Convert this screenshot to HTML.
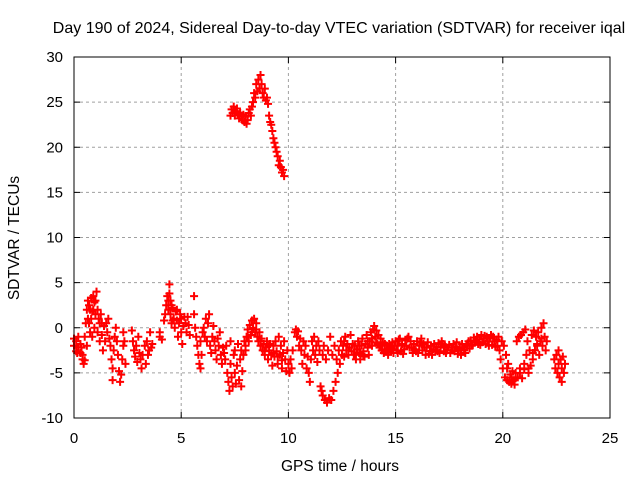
<!DOCTYPE html>
<html><head><meta charset="utf-8"><style>
html,body{margin:0;padding:0;background:#fff;}
svg{display:block;font-family:"Liberation Sans",sans-serif;}
</style></head><body>
<svg id="chart" width="640" height="480" viewBox="0 0 640 480">
<text x="339" y="33" text-anchor="middle" font-size="16" fill="#000">Day 190 of 2024, Sidereal Day-to-day VTEC variation (SDTVAR) for receiver iqal</text>
<text transform="translate(19,238) rotate(-90)" text-anchor="middle" font-size="15.5" fill="#000">SDTVAR / TECUs</text>
<text x="340" y="471" text-anchor="middle" font-size="15.5" fill="#000">GPS time / hours</text>
<g id="grid"></g>
<g id="ticks"></g>
<g id="points"></g>
<rect x="74" y="57" width="536" height="361" fill="none" stroke="#000" stroke-width="1"/>
</svg>
<script>
const xTicks=[0,5,10,15,20,25];
const yTicks=[-10,-5,0,5,10,15,20,25,30];
const hours=[
0.0,0.0,0.1,0.1,0.2,0.2,0.3,0.3,0.4,0.4,0.45,0.5,0.5,0.55,0.6,0.6,0.65,0.7,0.7,0.75,0.8,0.8,0.85,0.9,0.9,0.95,1.0,1.0,1.05,1.1,1.1,1.2,1.2,1.25,1.3,1.35,1.4,1.45,1.5,1.55,1.6,1.65,1.7,1.75,1.8,1.8,1.85,1.9,1.95,2.0,2.05,2.1,2.15,2.2,2.25,2.3,2.3,2.35,2.4,
2.7,2.75,2.8,2.85,2.9,2.95,3.0,3.05,3.1,3.15,3.2,3.3,3.35,3.4,3.45,3.5,3.55,3.6,3.65,4.0,4.0,4.1,
4.2,4.25,4.3,4.35,4.4,4.45,4.45,4.5,4.5,4.55,4.6,4.65,4.7,4.75,4.8,4.85,4.9,4.95,5.0,5.0,5.05,5.1,5.15,5.2,5.25,5.3,5.35,5.4,
5.6,5.6,5.65,5.7,5.75,5.8,5.85,5.9,5.9,5.95,6.0,6.05,6.1,6.15,6.2,6.25,6.3,6.35,6.4,6.45,6.5,6.55,6.6,6.65,6.7,6.75,6.8,6.85,6.9,6.95,7.0,
7.05,7.1,7.15,7.2,7.25,7.3,7.3,7.35,7.4,7.45,7.5,7.5,7.55,7.6,7.65,7.7,7.75,7.8,7.8,7.85,7.9,7.95,8.0,8.05,8.1,8.15,8.2,8.25,8.3,8.35,8.4,8.45,8.5,8.55,
8.6,8.65,8.7,8.75,8.8,8.85,8.9,8.95,9.0,9.05,9.1,9.15,9.2,9.25,9.3,9.35,9.4,9.45,9.5,9.55,9.6,9.65,9.7,9.75,9.8,9.85,9.9,9.95,10.0,10.05,10.1,10.15,10.2,
10.3,10.35,10.4,10.45,10.5,10.55,
10.6,10.65,10.7,10.75,10.8,10.85,10.9,10.95,11.0,11.05,11.1,11.15,11.2,11.25,11.3,11.35,11.4,11.45,11.5,11.55,11.6,11.6,11.65,11.7,11.75,11.8,11.85,11.9,11.95,12.0,12.05,12.1,12.15,12.2,12.25,12.3,12.35,12.4,12.45,12.5,12.55,12.6,12.65,12.7,12.75,12.8,12.85,12.9,12.95,
13.0,13.05,13.1,13.15,13.2,13.25,13.3,13.35,13.4,13.45,13.5,13.55,13.6,13.65,13.7,13.75,13.8,13.85,13.9,13.95,14.0,14.05,14.1,14.15,14.2,14.25,14.3,14.35,14.4,14.45,14.5,14.55,14.6,14.65,14.7,14.75,14.8,14.85,14.9,14.95,
15.0,15.05,15.1,15.2,15.25,15.3,15.4,15.45,15.5,15.6,15.65,15.7,15.8,15.85,15.9,16.0,16.05,16.1,16.2,16.25,16.3,16.4,16.45,16.5,16.6,16.65,16.7,16.8,16.85,16.9,17.0,17.05,17.1,17.2,17.25,17.3,17.4,17.5,17.55,17.6,17.7,17.75,17.8,17.9,18.0,18.05,18.1,18.2,18.3,18.4,18.45,18.5,18.6,18.65,18.7,18.8,18.85,18.9,19.0,19.05,19.1,19.2,19.25,19.3,19.4,19.5,19.55,19.6,19.7,19.75,
19.8,19.85,19.9,19.95,20.0,20.05,20.1,20.15,20.2,20.25,20.3,20.35,20.4,20.45,20.5,20.55,20.6,20.65,20.7,20.75,20.8,20.85,20.9,20.95,21.0,21.05,21.1,21.15,21.2,21.25,21.3,21.35,21.4,21.45,21.5,21.55,21.6,21.65,21.7,21.75,21.8,21.85,21.9,21.95,22.0,22.05,
22.4,22.45,22.5,22.55,22.6,22.6,22.65,22.7,22.75,22.75,22.8,22.85,22.9,
7.3,7.35,7.4,7.45,7.5,7.55,7.6,7.65,7.7,7.75,7.8,7.85,7.9,7.95,8.0,8.05,8.1,8.15,8.2,8.25,8.3,8.35,8.4,8.45,8.5,8.55,8.6,8.65,8.7,8.75,8.8,8.85,8.9,8.95,9.0,9.05,9.1,9.15,9.2,9.25,9.3,9.35,9.4,9.45,9.5,9.55,9.6,9.65,9.7,9.75,9.8,
15.1,15.15,15.35,15.55,15.75,15.95,16.15,16.35,16.55,16.75,16.95,17.15,17.35,17.45,17.65,17.85,17.95,18.15,18.25,18.35,18.55,18.75,18.95,19.15,19.35,19.45,19.65,
0.15,0.35,0.65,0.75,0.85,0.95,1.15,1.3,4.4,4.55,4.6,4.8,12.6,12.8,13.1,13.3,13.5,13.7,13.9,14.1,14.3,14.5,14.7,14.9,
8.0,8.1,8.3,8.5,8.7,8.9,9.1,9.3,9.5,9.7,20.2,20.4,20.6,20.8,21.0,21.2,21.4,21.6,21.8
];
const sdtvar=[
-1.2,-2.0,-1.5,-2.6,-1.0,-2.2,-2.8,-1.8,-3.5,-3.0,-4.0,-3.6,-1.0,0.5,2.0,-2.0,3.0,0.5,2.5,-0.5,3.3,1.0,-1.0,2.0,3.5,0.0,1.5,3.0,4.0,-0.5,2.0,0.5,-1.5,1.5,-0.8,-2.5,0.2,-1.5,0.5,-0.5,1.0,-1.2,-2.0,-3.5,-5.8,-4.5,-2.5,-1.0,0.0,-1.5,-3.0,-4.8,-6.0,-5.2,-3.5,-2.0,-0.5,-1.5,-4.0,
-0.3,-1.5,-2.5,-3.2,-2.0,-3.8,-1.0,-2.8,-3.5,-4.5,-3.0,-2.0,-4.0,-1.5,-3.0,-2.5,-0.5,-2.2,-1.8,-0.5,-1.0,-1.3,
0.8,1.5,2.5,3.5,2.0,4.8,3.8,3.0,1.5,0.5,2.2,1.0,0.0,1.8,0.8,-1.0,0.5,1.5,-0.5,1.0,-1.8,0.2,1.2,0.5,-0.5,1.2,0.3,-0.8,
3.5,1.5,0.0,-1.0,-2.0,-3.0,-4.0,-4.5,-1.5,-3.0,-0.5,0.0,-1.0,1.0,-1.5,0.5,1.5,-2.0,-2.8,-1.0,0.2,-1.5,-2.5,-3.5,-1.2,-2.0,-0.5,-3.0,-4.0,-2.2,-2.8,
-3.5,-2.0,-5.0,-6.0,-7.0,-4.0,-1.5,-5.5,-6.5,-3.0,-2.5,-5.0,-6.2,-4.2,-1.8,-5.8,-3.5,-6.5,-2.5,-4.8,-3.0,-1.5,-2.5,-1.0,-0.2,-1.5,0.3,-0.8,0.8,0.0,1.0,-0.5,0.5,-1.0,
-1.5,-0.5,-2.0,-1.2,-2.5,-1.8,-3.0,-2.2,-1.5,-3.5,-2.5,-1.8,-3.0,-4.2,-2.0,-3.2,-1.5,-2.6,-4.0,-1.0,-3.0,-2.0,-4.5,-2.8,-1.5,-3.5,-4.8,-2.5,-4.0,-5.0,-3.5,-4.5,-2.5,
-0.5,-0.2,-1.0,-0.4,-2.0,-1.2,
-2.5,-4.0,-1.5,-3.0,-2.0,-4.5,-3.2,-5.0,-6.0,-3.5,-1.5,-2.5,-1.0,-3.0,-2.0,-3.8,-1.5,-2.5,-6.5,-7.0,-3.0,-7.5,-2.0,-8.0,-3.5,-8.3,-2.5,-7.8,-1.0,-8.0,-3.0,-7.0,-2.0,-6.0,-3.5,-5.0,-2.5,-4.0,-1.5,-3.0,-2.0,-3.2,-1.0,-2.5,-1.8,-3.0,-2.2,-0.8,-2.6,
-1.8,-3.0,-2.0,-3.5,-2.4,-1.5,-2.8,-3.5,-2.0,-1.2,-2.6,-3.2,-1.8,-0.8,-2.2,-3.0,-1.5,-0.5,-2.0,-0.2,0.2,-1.0,-0.3,-1.8,-0.8,-2.2,-1.2,-2.5,-1.6,-2.8,-1.8,-2.6,-2.0,-3.0,-1.8,-2.6,-2.2,-1.6,-2.8,-2.0,
-1.5,-2.5,-2.0,-1.2,-2.6,-1.8,-2.4,-1.4,-2.0,-1.0,-2.2,-1.5,-2.8,-1.8,-2.4,-1.5,-2.8,-2.0,-1.2,-2.5,-1.8,-3.0,-2.2,-1.6,-2.6,-2.0,-3.0,-1.8,-2.5,-2.1,-1.7,-2.8,-2.2,-1.8,-2.6,-2.0,-2.5,-1.9,-2.8,-2.2,-1.8,-2.6,-2.1,-2.9,-2.2,-3.0,-1.8,-2.5,-2.0,-1.5,-2.3,-1.4,-1.9,-1.1,-1.6,-1.0,-1.8,-1.3,-0.8,-1.6,-1.2,-1.8,-1.0,-1.5,-1.2,-1.9,-1.0,-1.5,-1.3,-2.0,
-1.0,-2.5,-3.5,-1.5,-4.5,-2.0,-5.5,-3.0,-5.8,-4.0,-6.0,-5.2,-6.2,-4.8,-5.8,-6.3,-5.0,-1.5,-5.5,-1.0,-4.5,-0.8,-5.6,-0.5,-4.0,-0.2,-3.0,-1.5,-5.0,-2.5,-4.2,-0.8,-3.5,-0.3,-2.5,-1.0,-2.0,-0.5,-3.0,-1.5,0.0,-2.0,0.5,-1.0,-2.5,-1.5,
-3.5,-4.5,-3.0,-5.0,-4.0,-2.5,-5.5,-3.5,-4.5,-6.0,-3.2,-5.0,-4.0,
23.5,24.2,23.8,24.5,23.5,24.0,24.3,23.6,23.2,23.8,23.5,23.0,23.6,22.8,23.4,22.6,23.0,23.8,24.2,23.5,24.5,25.0,26.0,25.5,27.0,26.2,27.5,26.5,28.0,27.0,26.0,25.5,26.5,25.2,25.5,24.8,23.5,22.8,22.5,21.8,21.0,20.5,20.0,19.5,19.0,18.0,18.5,17.8,17.2,17.5,16.8,
-2.8,-1.3,-2.9,-1.2,-2.2,-2.6,-1.6,-2.2,-2.9,-2.4,-2.6,-1.5,-2.8,-2.2,-2.5,-1.6,-2.4,-2.2,-2.8,-1.8,-2.0,-1.5,-1.9,-0.9,-2.0,-0.8,-2.1,
-2.8,-2.2,1.0,2.0,1.8,2.8,1.0,0.5,3.0,2.5,0.8,2.0,-1.5,-2.5,-3.0,-2.0,-3.0,-1.5,-1.2,-1.6,-2.0,-2.4,-2.4,-2.4,
-2.0,-1.0,-0.5,-0.2,-1.5,-2.6,-2.0,-2.8,-3.2,-3.6,-4.5,-5.5,-5.6,-5.0,-4.6,-4.5,-2.8,-1.8,-1.2
];
const NS='http://www.w3.org/2000/svg';
const X0=74,X1=610,Y0=418,Y1=57;
function xScale(v){return X0+(v-0)/(25-0)*(X1-X0);}
function yScale(v){return Y0-(v+10)/(30+10)*(Y0-Y1);}
const grid=document.getElementById('grid');
const ticks=document.getElementById('ticks');
function mk(tag,attrs,parent){const e=document.createElementNS(NS,tag);for(const k in attrs)e.setAttribute(k,attrs[k]);parent.appendChild(e);return e;}
xTicks.forEach(function(t){
  const x=xScale(t);
  if(t>0&&t<25){const g=mk('line',{x1:x,x2:x,y1:Y0,y2:Y1,stroke:'#a0a0a0','stroke-dasharray':'3,3','stroke-width':1},grid);
    
    }
  const tk=mk('path',{d:'M'+x+' '+Y0+'v-6M'+x+' '+Y1+'v6',stroke:'#000','stroke-width':1},ticks);
  
  
  const lb=mk('text',{x:x,y:Y0+25,'text-anchor':'middle','font-size':'15',fill:'#000'},ticks);
  lb.textContent=t;
  
  
});
yTicks.forEach(function(t){
  const y=yScale(t);
  if(t>-10&&t<30){const g=mk('line',{x1:X0,x2:X1,y1:y,y2:y,stroke:'#a0a0a0','stroke-dasharray':'3,3','stroke-width':1},grid);
    
    }
  const tk=mk('path',{d:'M'+X0+' '+y+'h6M'+X1+' '+y+'h-6',stroke:'#000','stroke-width':1},ticks);
  
  
  const lb=mk('text',{x:X0-11,y:y+5,'text-anchor':'end','font-size':'15',fill:'#000'},ticks);
  lb.textContent=t;
  
  
});
const pts=document.getElementById('points');
let d='';
for(let i=0;i<hours.length;i++){
  const x=xScale(hours[i]),y=yScale(sdtvar[i]);
  d+='M'+(x-4)+' '+y+'h8M'+x+' '+(y-4)+'v8';
}
const p=mk('path',{d:d,stroke:'#ff0000','stroke-width':2,fill:'none'},pts);


</script>
</body></html>
